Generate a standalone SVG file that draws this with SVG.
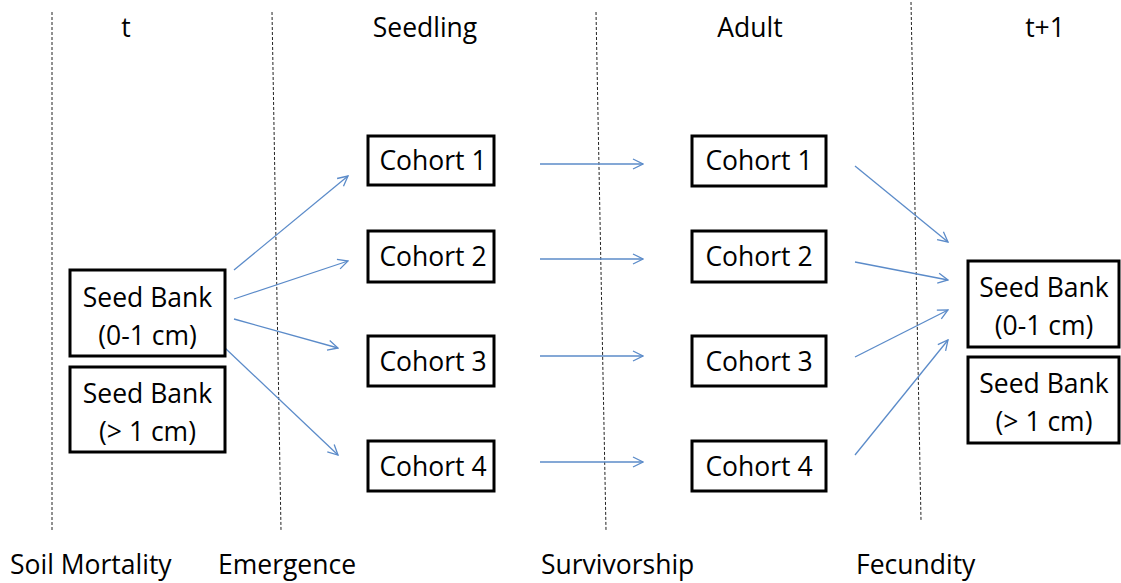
<svg xmlns="http://www.w3.org/2000/svg" width="1121" height="583" viewBox="0 0 1121 583">
<defs>
<style>
text{font-family:"Open Sans","Noto Sans",sans-serif;font-size:26.5px;fill:#000}
.c{text-anchor:middle}
.box{fill:#fff;stroke:#000;stroke-width:3}
.div{stroke:#222;stroke-width:1;stroke-dasharray:3,2;fill:none}
.arr{stroke:#5b8bc9;stroke-width:1.3;fill:none;marker-end:url(#ah)}
</style>
<marker id="ah" viewBox="0 0 12 12" refX="11" refY="6" markerWidth="12" markerHeight="12" markerUnits="userSpaceOnUse" orient="auto">
<polyline points="1,1 11,6 1,11" fill="none" stroke="#5b8bc9" stroke-width="1.3"/>
</marker>
</defs>
<g id="dividers">
<line class="div" x1="52" y1="12" x2="52" y2="530"/>
<line class="div" x1="272" y1="12" x2="281" y2="530"/>
<line class="div" x1="596" y1="12" x2="606" y2="530"/>
<line class="div" x1="911" y1="2" x2="921" y2="520"/>
</g>
<g id="headers">
<text class="c" x="126" y="37">t</text>
<text class="c" x="425" y="37">Seedling</text>
<text class="c" x="750" y="37">Adult</text>
<text class="c" x="1045" y="37">t+1</text>
<text x="10" y="574">Soil Mortality</text>
<text x="218" y="574">Emergence</text>
<text x="541" y="574">Survivorship</text>
<text x="856" y="574">Fecundity</text>
</g>
<g id="connectors">
<line class="arr" x1="234" y1="270" x2="348" y2="176"/>
<line class="arr" x1="234" y1="299" x2="348" y2="261"/>
<line class="arr" x1="234" y1="319" x2="338" y2="348"/>
<line class="arr" x1="225" y1="348" x2="338" y2="455"/>
<line class="arr" x1="540" y1="164" x2="643" y2="164"/>
<line class="arr" x1="540" y1="259" x2="643" y2="259"/>
<line class="arr" x1="540" y1="356" x2="643" y2="356"/>
<line class="arr" x1="540" y1="462" x2="643" y2="462"/>
<line class="arr" x1="855" y1="166" x2="948" y2="242"/>
<line class="arr" x1="855" y1="262" x2="948" y2="280"/>
<line class="arr" x1="855" y1="357" x2="948" y2="310"/>
<line class="arr" x1="855" y1="455" x2="948" y2="340"/>
</g>
<g id="seedbank-t-shallow"><rect class="box" x="70" y="270" width="155" height="86"/><text class="c" x="147.5" y="307">Seed Bank</text><text class="c" x="147.5" y="345">(0-1 cm)</text></g>
<g id="seedbank-t-deep"><rect class="box" x="70" y="367" width="155" height="85"/><text class="c" x="147.5" y="403">Seed Bank</text><text class="c" x="147.5" y="441">(&gt; 1 cm)</text></g>
<g id="seedling-1"><rect class="box" x="368" y="136" width="126" height="49"/><text class="c" x="433" y="170">Cohort 1</text></g>
<g id="seedling-2"><rect class="box" x="368" y="231" width="126" height="51"/><text class="c" x="433" y="266">Cohort 2</text></g>
<g id="seedling-3"><rect class="box" x="368" y="336" width="126" height="50"/><text class="c" x="433" y="371">Cohort 3</text></g>
<g id="seedling-4"><rect class="box" x="368" y="441" width="126" height="50"/><text class="c" x="433" y="476">Cohort 4</text></g>
<g id="adult-1"><rect class="box" x="692" y="136" width="134" height="50"/><text class="c" x="759" y="170">Cohort 1</text></g>
<g id="adult-2"><rect class="box" x="692" y="231" width="134" height="51"/><text class="c" x="759" y="266">Cohort 2</text></g>
<g id="adult-3"><rect class="box" x="692" y="336" width="134" height="50"/><text class="c" x="759" y="371">Cohort 3</text></g>
<g id="adult-4"><rect class="box" x="692" y="441" width="134" height="50"/><text class="c" x="759" y="476">Cohort 4</text></g>
<g id="seedbank-t1-shallow"><rect class="box" x="968" y="261" width="151" height="86"/><text class="c" x="1044" y="297">Seed Bank</text><text class="c" x="1044" y="335">(0-1 cm)</text></g>
<g id="seedbank-t1-deep"><rect class="box" x="968" y="357" width="151" height="86"/><text class="c" x="1044" y="393">Seed Bank</text><text class="c" x="1044" y="431">(&gt; 1 cm)</text></g>
</svg>
